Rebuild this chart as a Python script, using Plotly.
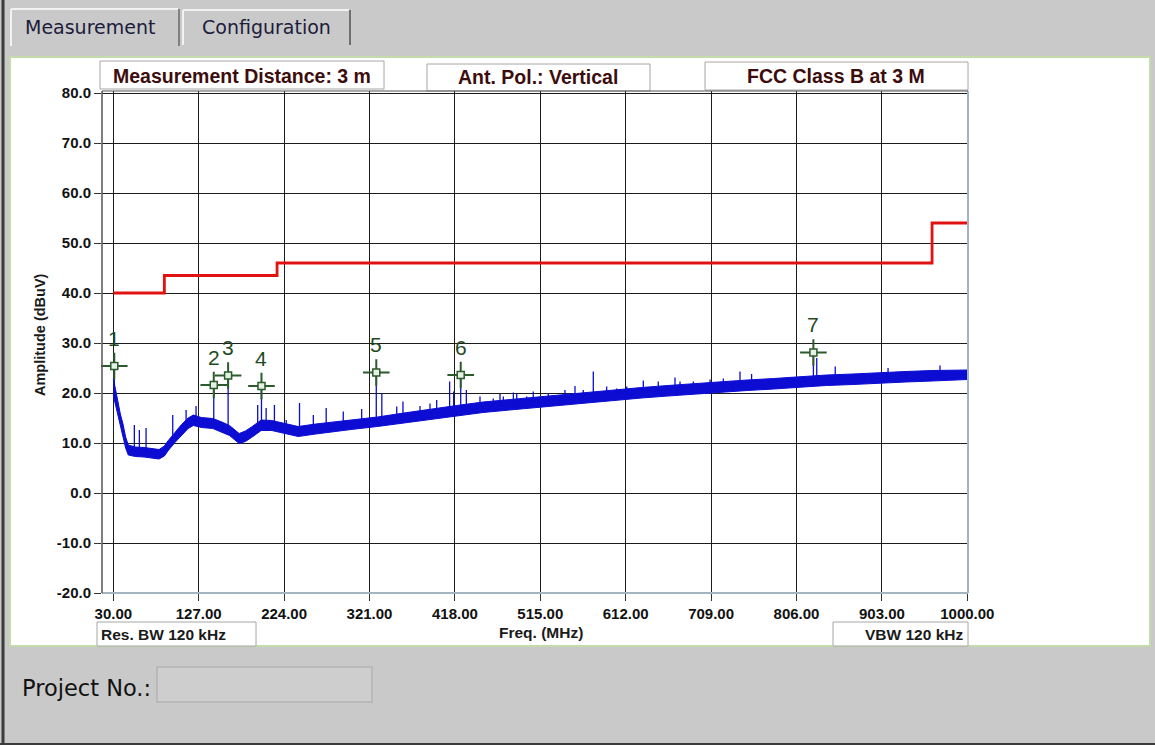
import plotly.graph_objects as go

# ---------------- data ----------------
freq_ticks = [30, 127, 224, 321, 418, 515, 612, 709, 806, 903, 1000]
freq_tick_labels = ["30.00", "127.00", "224.00", "321.00", "418.00", "515.00",
                    "612.00", "709.00", "806.00", "903.00", "1000.00"]
amp_ticks = [80, 70, 60, 50, 40, 30, 20, 10, 0, -10, -20]
amp_tick_labels = ["80.0", "70.0", "60.0", "50.0", "40.0", "30.0", "20.0",
                   "10.0", "0.0", "-10.0", "-20.0"]

# FCC Class B limit (step line)
limit_freq = [30, 88, 216, 960, 1000]
limit_level = [40.0, 43.5, 46.0, 54.0, 54.0]

# measured noise floor envelope (lower / upper edge of the blue trace)
band_freq = [30, 32, 35, 38, 41, 44, 47, 55, 65, 75, 82, 88, 92, 100, 107, 115,
             121, 130, 143, 152, 162, 173, 180, 187, 198, 210, 225, 240, 260,
             280, 300, 330, 360, 390, 420, 450, 480, 510, 540, 570, 600, 630,
             660, 690, 720, 750, 780, 810, 840, 870, 900, 930, 960, 1000]
band_lo = [19.5, 18.0, 16.0, 13.4, 11.4, 9.0, 7.6, 7.3, 7.2, 6.9, 6.8, 7.4, 8.4,
           10.1, 11.5, 12.9, 13.5, 13.1, 12.9, 12.3, 11.5, 9.9, 10.3, 11.1, 12.5,
           12.5, 11.9, 11.3, 11.8, 12.3, 12.7, 13.3, 14.0, 14.7, 15.4, 16.1,
           16.6, 17.1, 17.6, 18.1, 18.5, 19.0, 19.4, 19.8, 20.2, 20.5, 20.8,
           21.2, 21.5, 21.7, 22.0, 22.2, 22.4, 22.7]
band_hi = [23.0, 21.0, 18.6, 15.8, 13.8, 11.2, 9.6, 9.2, 9.1, 8.8, 8.7, 9.4, 10.4,
           12.1, 13.6, 15.0, 15.6, 15.1, 14.9, 14.3, 13.5, 11.9, 12.4, 13.2, 14.6,
           14.5, 13.9, 13.3, 13.8, 14.2, 14.6, 15.2, 16.0, 16.8, 17.5, 18.2,
           18.7, 19.2, 19.7, 20.2, 20.6, 21.1, 21.5, 21.9, 22.3, 22.6, 22.9,
           23.3, 23.6, 23.8, 24.1, 24.3, 24.5, 24.6]

# narrow emission spikes: frequency, base (band level) and peak
spike_freq = [31.1, 53.9, 59.6, 67.2, 97.5, 112.7, 124.0, 144.1, 160.4, 194.0,
              198.3, 203.6, 213.0, 226.4, 241.5, 257.2, 271.8, 291.2, 312.1,
              328.7, 335.0, 351.9, 359.0, 378.4, 389.7, 397.3,
              412.0, 416.6, 424.6, 431.0, 446.5, 461.6, 469.2, 473.0, 484.4,
              488.2, 499.6, 507.0, 524.1,
              543.0, 554.4, 563.8, 575.2, 590.4, 601.8, 613.2, 632.0, 649.0,
              668.0, 673.7, 688.8, 707.8, 722.9, 741.8, 755.0, 825.2, 829.0,
              850.0, 910.0, 969.0]
spike_base = [21.0, 8.3, 8.2, 8.2, 10.8, 13.0, 14.5, 14.0, 12.8, 13.4,
              13.6, 13.6, 13.5, 13.0, 12.4, 13.3, 13.2, 13.9, 14.2,
              14.3, 14.4, 14.9, 15.0, 15.4, 15.6, 15.8,
              16.3, 16.4, 16.6, 16.7, 17.0, 17.3, 17.5, 17.5, 17.7,
              17.8, 18.0, 18.1, 18.3,
              18.6, 18.8, 18.9, 19.1, 19.3, 19.5, 19.7, 20.0, 20.3,
              20.6, 20.6, 20.8, 21.1, 21.2, 21.5, 21.6, 22.4, 22.5,
              22.6, 23.1, 23.5]
spike_peak = [25.4, 13.6, 12.6, 13.0, 15.6, 16.6, 17.4, 21.6, 23.5, 17.6,
              21.4, 17.0, 17.6, 14.6, 18.0, 15.6, 17.0, 16.3, 16.8,
              24.1, 20.0, 17.3, 18.3, 17.4, 17.9, 18.6,
              22.3, 20.3, 23.6, 20.6, 19.3, 18.9, 19.8, 19.3, 20.1,
              19.9, 19.3, 20.3, 19.9,
              20.6, 21.4, 20.6, 24.3, 21.3, 20.9, 21.3, 22.5, 22.3,
              23.1, 22.3, 22.3, 22.7, 22.9, 24.3, 23.8, 28.1, 27.0,
              25.3, 25.0, 25.5]

# numbered peak markers
marker_label = ["1", "2", "3", "4", "5", "6", "7"]
marker_freq = [31.1, 144.1, 160.4, 198.3, 328.7, 424.6, 825.2]
marker_level = [25.4, 21.6, 23.5, 21.4, 24.1, 23.6, 28.1]

# ---------------- layout geometry (pixels) ----------------
W, H = 1155, 745
L, R, T, B = 102, 968, 91, 593


def px(x):
    return (x - L) / (R - L)


def py(y):
    return (B - y) / (B - T)


BLUE = "#0c0cd2"
RED = "#e31212"
GREEN = "#2b5a2b"
BG = "#c9c9c9"

fig = go.Figure()

# noise band
fig.add_trace(go.Scatter(x=band_freq, y=band_lo, mode="lines",
                         line=dict(color=BLUE, width=1), hoverinfo="skip"))
fig.add_trace(go.Scatter(x=band_freq, y=band_hi, mode="lines", fill="tonexty",
                         fillcolor=BLUE, line=dict(color=BLUE, width=1),
                         hoverinfo="skip"))

# spikes
sx, sy = [], []
for f, b0, p in zip(spike_freq, spike_base, spike_peak):
    sx += [f, f, None]
    sy += [b0, p, None]
fig.add_trace(go.Scatter(x=sx, y=sy, mode="lines",
                         line=dict(color=BLUE, width=1.3), hoverinfo="skip"))

# limit line
fig.add_trace(go.Scatter(x=limit_freq, y=limit_level, mode="lines",
                         line=dict(color=RED, width=2.8, shape="hv"),
                         hoverinfo="skip"))

# markers (crosshair + square)
fig.add_trace(go.Scatter(x=marker_freq, y=marker_level, mode="markers",
                         marker=dict(symbol="cross-thin-open", size=19,
                                     color=GREEN,
                                     line=dict(color=GREEN, width=2)),
                         cliponaxis=False, hoverinfo="skip"))
fig.add_trace(go.Scatter(x=marker_freq, y=marker_level, mode="markers",
                         marker=dict(symbol="square", size=7, color="#e4f1e4",
                                     line=dict(color=GREEN, width=1.5)),
                         cliponaxis=False, hoverinfo="skip"))

annotations = []
for lab, f, v in zip(marker_label, marker_freq, marker_level):
    annotations.append(dict(x=f, y=v, xref="x", yref="y", text=lab,
                            showarrow=False, yshift=28,
                            font=dict(family="Liberation Sans", size=21,
                                      color="#1f4a1f")))

shapes = []


def rect(x0, y0, x1, y1, fill, line_color=None, lw=1, layer="below"):
    shapes.append(dict(type="rect", xref="paper", yref="paper",
                       x0=px(x0), x1=px(x1), y0=py(y1), y1=py(y0),
                       fillcolor=fill, layer=layer,
                       line=dict(color=line_color or fill,
                                 width=lw if line_color else 0)))


def hline(x0, x1, y, color, lw=1, layer="below"):
    shapes.append(dict(type="line", xref="paper", yref="paper",
                       x0=px(x0), x1=px(x1), y0=py(y), y1=py(y),
                       layer=layer, line=dict(color=color, width=lw)))


def vline(x, y0, y1, color, lw=1, layer="below"):
    shapes.append(dict(type="line", xref="paper", yref="paper",
                       x0=px(x), x1=px(x), y0=py(y0), y1=py(y1),
                       layer=layer, line=dict(color=color, width=lw)))


def text(x, y, s, size, color="#111111", family="Liberation Sans",
         bold=False, xanchor="center", angle=0):
    annotations.append(dict(x=px(x), y=py(y), xref="paper", yref="paper",
                            text=("<b>%s</b>" % s) if bold else s,
                            showarrow=False, xanchor=xanchor, yanchor="middle",
                            textangle=angle,
                            font=dict(family=family, size=size, color=color)))


# window frame
vline(3, 0, 745, "#3c3c3c", 3)
hline(0, 1155, 744, "#3c3c3c", 2)

# tabs
vline(11, 9, 46, "#f2f2f2", 2)
hline(11, 178, 9, "#f2f2f2", 2)
vline(179, 9, 46, "#808080", 2)
vline(183, 10, 45, "#f2f2f2", 2)
hline(183, 349, 10, "#f2f2f2", 2)
vline(350, 10, 45, "#707070", 2)
text(90, 27, "Measurement", 19, "#1c1c3c", "DejaVu Sans")
text(266, 27, "Configuration", 19, "#1c1c3c", "DejaVu Sans")

# white panel
rect(10, 57, 1150, 646, "#ffffff", "#c4dbab", 2)

# header boxes
rect(100, 61, 384, 89, "#ffffff", "#a6a6a6", 1)
rect(427, 64, 650, 91, "#ffffff", "#a6a6a6", 1)
rect(705, 62, 968, 90, "#ffffff", "#a6a6a6", 1)
text(242, 76, "Measurement Distance: 3 m", 19.5, "#3d0d0d", bold=True)
text(538, 77, "Ant. Pol.: Vertical", 19.5, "#3d0d0d", bold=True)
text(836, 76, "FCC Class B at 3 M", 19.5, "#3d0d0d", bold=True)

# bottom info boxes
rect(97, 622, 256, 646, "#ffffff", "#a6a6a6", 1)
rect(833, 622, 968, 646, "#ffffff", "#a6a6a6", 1)
text(99, 634, "Res. BW 120 kHz", 15.5, "#1a1a1a", bold=True, xanchor="left")
text(965, 634, "VBW 120 kHz", 15.5, "#1a1a1a", bold=True, xanchor="right")

# axis titles
text(541, 632, "Freq. (MHz)", 15.5, "#1a1a1a", bold=True)
text(40, 335, "Amplitude (dBuV)", 14.5, "#1a1a1a", bold=True, angle=-90)

# project number
text(20, 688, "Project No.:", 22.5, "#111111", "DejaVu Sans", xanchor="left")
rect(157, 667, 372, 702, "#cecece", "#b4b4b4", 1.5)

# plot frame (drawn over the grid)
vline(R, T, B, "#a3b5bf", 2, "above")
hline(L, R, B, "#a3b5bf", 2, "above")
vline(L, T, B, "#555555", 1.5, "above")
hline(L, R, T, "#555555", 1, "above")

tickfont = dict(family="Liberation Sans", size=15, color="#111111",
                weight="bold")

fig.update_layout(
    width=W, height=H, autosize=False,
    margin=dict(l=L, r=W - R, t=T, b=H - B, pad=0),
    paper_bgcolor=BG, plot_bgcolor="#ffffff",
    showlegend=False,
    shapes=shapes, annotations=annotations,
    xaxis=dict(range=[17.16, 1000.8], tickvals=freq_ticks,
               ticktext=freq_tick_labels, showgrid=True,
               gridcolor="#1c1c1c", gridwidth=1.4, zeroline=False,
               showline=False, ticks="outside", ticklen=7, tickwidth=1,
               tickcolor="#333333", tickfont=tickfont, fixedrange=True),
    yaxis=dict(range=[-20, 80.4], tickvals=amp_ticks,
               ticktext=amp_tick_labels, showgrid=True,
               gridcolor="#1c1c1c", gridwidth=1.4, zeroline=False,
               showline=False, ticks="outside", ticklen=7, tickwidth=1,
               tickcolor="#333333", tickfont=tickfont, fixedrange=True),
)

fig.write_html(
    "out.html",
    config={"displayModeBar": False},
    post_script="document.body.style.margin='0px';"
                "document.body.style.overflow='hidden';",
)
